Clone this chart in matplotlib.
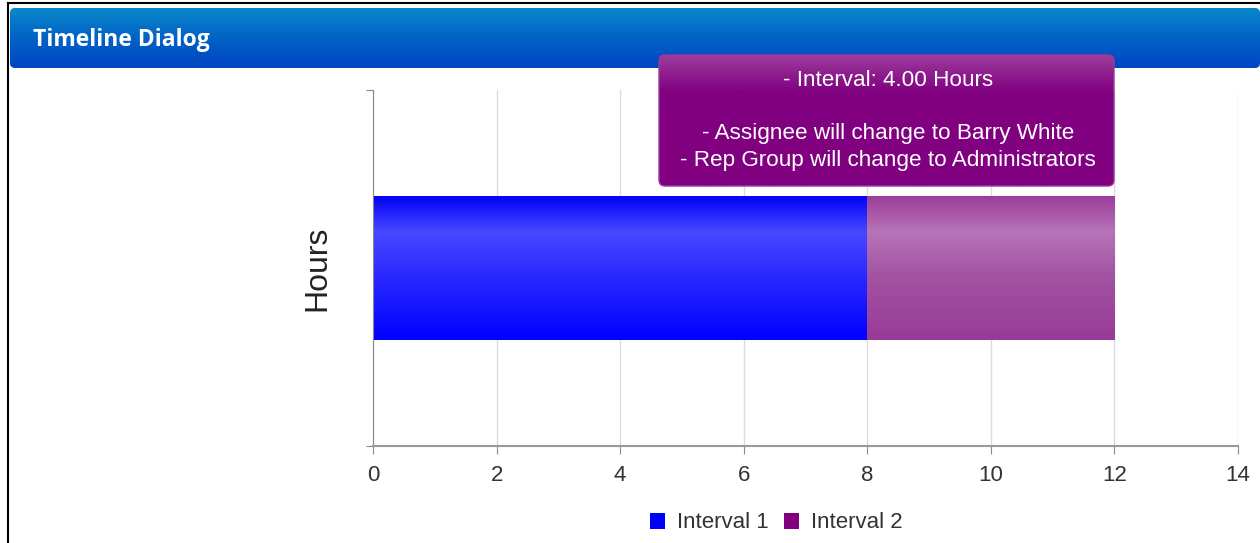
import matplotlib
matplotlib.use("Agg")
import matplotlib.pyplot as plt
import numpy as np
from matplotlib.patches import FancyBboxPatch
from matplotlib.colors import LinearSegmentedColormap

# ---- data ----
category = ["Hours"]
series_names = ["Interval 1", "Interval 2"]
series_values = [8, 4]
series_colors = ["#0000ff", "#800080"]
x_ticks = [0, 2, 4, 6, 8, 10, 12, 14]
title = "Timeline Dialog"
tooltip_lines = ["- Interval: 4.00 Hours", "", "- Assignee will change to Barry White",
                 "- Rep Group will change to Administrators"]

plt.rcParams['font.family'] = ['Liberation Sans', 'DejaVu Sans']

W, H = 1260, 543
fig = plt.figure(figsize=(W / 100, H / 100), dpi=100)
fig.patch.set_facecolor("white")
grad = np.linspace(0, 1, 128).reshape(-1, 1)

# ---- dialog frame and header ----
bg = fig.add_axes([0, 0, 1, 1])
bg.set_xlim(0, W)
bg.set_ylim(H, 0)
bg.axis("off")
bg.plot([7.5, 7.5], [3, H], color="black", lw=1.5)
bg.plot([7.5, W], [3, 3], color="black", lw=1.5)
hdr_cmap = LinearSegmentedColormap.from_list("hdr", ["#0a88cc", "#0262c6", "#0044c4"])
hdr_patch = FancyBboxPatch((10, 8), W - 10, 60, boxstyle="round,pad=0,rounding_size=5",
                           facecolor="none", edgecolor="none")
bg.add_patch(hdr_patch)
im = bg.imshow(grad, cmap=hdr_cmap, aspect="auto", extent=[10, W, 68, 8], zorder=1)
im.set_clip_path(hdr_patch)
bg.text(33, 40, title, color="white", fontsize=16.5, fontweight="bold",
        family=["Open Sans", "DejaVu Sans"], va="center", ha="left", zorder=3)

# ---- chart axes ----
ax = fig.add_axes([373 / W, 97 / H, (1238 - 373) / W, (446 - 90) / H])
bar_h = 0.405
bar_cmaps = [
    LinearSegmentedColormap.from_list("b1", [(0, "#0000f6"), (0.25, "#4848ff"), (0.55, "#2a2aff"), (1, "#0000ff")]),
    LinearSegmentedColormap.from_list("b2", [(0, "#9a3c9a"), (0.25, "#b774b7"), (0.55, "#a254a2"), (1, "#993a99")]),
]
left = 0
for name, val, col, cm in zip(series_names, series_values, series_colors, bar_cmaps):
    bars = ax.barh(0, val, left=left, height=bar_h, color=col, label=name, zorder=2,
                   edgecolor="none")
    g = ax.imshow(grad, cmap=cm, aspect="auto", origin="upper",
                  extent=[left, left + val, -bar_h / 2, bar_h / 2], zorder=2.5)
    g.set_clip_path(bars[0])
    left += val
ax.set_ylim(-0.5, 0.5)
ax.set_xlim(x_ticks[0], x_ticks[-1])

ax.set_xticks(x_ticks)
ax.set_xticklabels([str(t) for t in x_ticks], fontsize=16, color="#333333")
ax.set_yticks([-0.5, 0.5])
ax.set_yticklabels([])
ax.tick_params(axis="x", length=6, color="#888888", pad=8)
ax.tick_params(axis="y", length=5, color="#888888")
ax.grid(axis="x", color="#dddddd", lw=1, zorder=0)
for s in ["top", "right"]:
    ax.spines[s].set_visible(False)
ax.spines["left"].set_color("#888888")
ax.spines["bottom"].set_color("#999999")
ax.spines["bottom"].set_linewidth(1.5)
ax.set_ylabel(category[0], fontsize=23, color="#222222", labelpad=21)

leg = fig.legend(loc="center", bbox_to_anchor=(776 / W, 1 - 523 / H), ncol=2, frameon=False,
                 fontsize=16, handlelength=0.7, handleheight=0.7, handletextpad=0.5,
                 columnspacing=0.7, labelcolor="#333333")

# ---- tooltip (overlay) ----
ov = fig.add_axes([0, 0, 1, 1])
ov.set_xlim(0, W)
ov.set_ylim(H, 0)
ov.axis("off")
ov.patch.set_alpha(0)
tip = FancyBboxPatch((659, 55), 1114 - 659, 186 - 55, boxstyle="round,pad=0,rounding_size=6",
                     facecolor="none", edgecolor="#9b3a9b", lw=1, zorder=5)
ov.add_patch(tip)
tip_cmap = LinearSegmentedColormap.from_list("tip", [(0, "#9c3c9c"), (0.28, "#800080"), (1, "#800080")])
tg = ov.imshow(grad, cmap=tip_cmap, aspect="auto", extent=[659, 1114, 186, 55], zorder=4)
tg.set_clip_path(tip)
for i, line in enumerate(tooltip_lines):
    ov.text(888, 80 + i * 26.7, line, color="white", fontsize=16.2, ha="center",
            va="center", zorder=6)
ov.set_xlim(0, W)
ov.set_ylim(H, 0)

fig.savefig("out.png", dpi=100)
